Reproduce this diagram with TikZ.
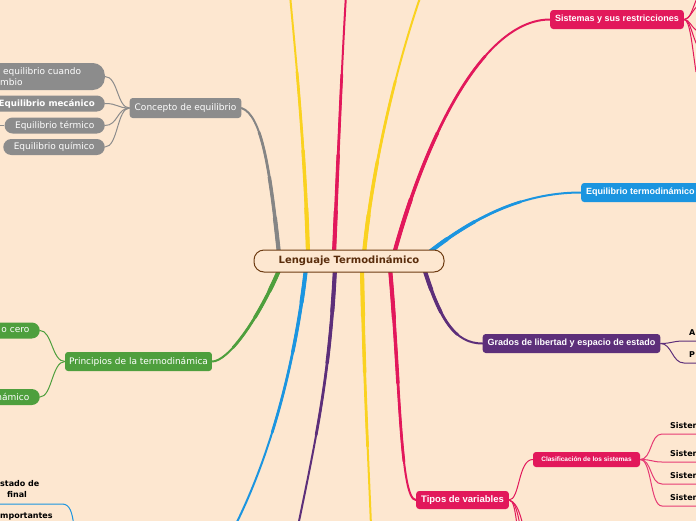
\documentclass[tikz,border=0pt]{standalone}
\usepackage{fontspec}
\setmainfont{DejaVu Sans}
\newfontfamily\lib{Liberation Sans}
\usetikzlibrary{calc,backgrounds}
\definecolor{bg}{HTML}{FDE7D0}
\definecolor{cgray}{HTML}{8C8C8C}
\definecolor{cgreen}{HTML}{4E9F3D}
\definecolor{ccrim}{HTML}{E2185B}
\definecolor{cblue}{HTML}{1B95E0}
\definecolor{cpurp}{HTML}{5D2F7A}
\definecolor{cyel}{HTML}{FAD220}
\definecolor{cbrown}{HTML}{6E3C12}
\definecolor{ctext}{HTML}{5A2D0C}
\tikzset{
 topicbox/.style={rounded corners=3pt, inner xsep=5pt, inner ysep=0pt, minimum height=19pt, text=white, font=\lib\bfseries\fontsize{9}{11}\selectfont},
 pillbox/.style={rounded corners=8pt, inner xsep=10.5pt, inner ysep=0pt, minimum height=16pt, text=white, font=\fontsize{9}{11}\selectfont},
 centrebox/.style={draw=cbrown, line width=1pt, fill=bg, rounded corners=10pt, minimum width=190pt, minimum height=22pt, inner sep=0pt, text=ctext, font=\bfseries\fontsize{10}{12}\selectfont},
 twig/.style={line width=1pt},
 leaf/.style={font=\bfseries\fontsize{8}{10.5}\selectfont, text=black, inner sep=0pt, anchor=west},
}
% sub-curve of a cubic from 0 to t (de Casteljau)
\newcommand\mysubcurve[5]{%
 \coordinate (qab) at ($(#2)!#1!(#3)$);
 \coordinate (qbc) at ($(#3)!#1!(#4)$);
 \coordinate (qcd) at ($(#4)!#1!(#5)$);
 \coordinate (qabc) at ($(qab)!#1!(qbc)$);
 \coordinate (qbcd) at ($(qbc)!#1!(qcd)$);
 \coordinate (qabcd) at ($(qabc)!#1!(qbcd)$);
}
\newcommand\taperbranch[5]{%
 \draw[#1, line width=2pt, line cap=round] (#2) .. controls (#3) and (#4) .. (#5);
 \mysubcurve{0.65}{#2}{#3}{#4}{#5}%
 \draw[#1, line width=2.7pt, line cap=round] (#2) .. controls (qab) and (qabc) .. (qabcd);
 \mysubcurve{0.35}{#2}{#3}{#4}{#5}%
 \draw[#1, line width=3.4pt, line cap=round] (#2) .. controls (qab) and (qabc) .. (qabcd);
 \mysubcurve{0.15}{#2}{#3}{#4}{#5}%
 \draw[#1, line width=4.1pt, line cap=round] (#2) .. controls (qab) and (qabc) .. (qabcd);
}
\begin{document}
\begin{tikzpicture}[x=1pt,y=-1pt]
\useasboundingbox (0,0) rectangle (696,520);
% centre
\node[centrebox] (C) at (349,261) {Lenguaje Termodinámico};
% first level
\node[topicbox, fill=cgray, font=\fontsize{9}{11}\selectfont, minimum height=20pt] (concepto) at (185.5,108) {Concepto de equilibrio};
\node[topicbox, fill=cgreen, font=\fontsize{9}{11}\selectfont, inner xsep=4pt] (principios) at (138.5,361.5) {Principios de la termodinámica};
\node[topicbox, fill=ccrim] (sistemas) at (617,19.5) {Sistemas y sus restricciones};
\node[topicbox, fill=cblue, anchor=west] (eqterm) at (581,192.5) {Equilibrio termodinámico};
\node[topicbox, fill=cpurp] (grados) at (571.5,343.5) {Grados de libertad y espacio de estado};
\node[topicbox, fill=ccrim, font=\lib\bfseries\fontsize{9.5}{11}\selectfont, minimum height=18pt] (tipos) at (462.5,500) {Tipos de variables};
\node[topicbox, fill=ccrim, font=\lib\bfseries\fontsize{6.5}{8}\selectfont, minimum height=15pt, minimum width=107pt] (clasif) at (586.5,459.5) {Clasificación de los sistemas};
% gray children
\node[pillbox, fill=cgray, anchor=east, minimum width=130pt, minimum height=27pt, rounded corners=12pt] (cuando) at (105,76.5) {};
\node[anchor=west, text=white, align=left, inner sep=0pt, font=\fontsize{9}{11}\selectfont] (cuandot) at (0,76.5) {\hspace*{3pt}equilibrio cuando\\mbio};
\node[pillbox, fill=cgray, anchor=east, inner xsep=10pt, font=\bfseries\fontsize{8.7}{11}\selectfont] (mecanico) at (105,103.5) {Equilibrio mecánico};
\node[pillbox, fill=cgray, anchor=east] (termico) at (105,125.5) {Equilibrio térmico};
\node[pillbox, fill=cgray, anchor=east] (quimico) at (105,147) {Equilibrio químico};
% green children
\node[pillbox, fill=cgreen, anchor=east, text width=40pt, align=right] (cero) at (40,330.5) {o cero};
\node[pillbox, fill=cgreen, anchor=east, text width=40pt, align=right] (namico) at (40,397) {námico};
% leaves
\node[leaf] (sa) at (670,426) {Sistem};
\node[leaf] (sb) at (670,453.5) {Sistem};
\node[leaf] (sc) at (670,476) {Sistem};
\node[leaf] (sd) at (670,498) {Sistem};
\node[leaf] (la) at (689,333) {A};
\node[leaf] (lp) at (689,355) {P};
\node[leaf, align=left] (estado) at (0,489) {stado de\\\hspace*{7pt}final};
\node[leaf] (mport) at (0,517) {mportantes};
% free ends
\coordinate (e1) at (290,-5);
\coordinate (e2) at (346,-5);
\coordinate (e3) at (421,-5);
\coordinate (e4) at (371,526);
\coordinate (e5) at (298,526);
\coordinate (e6) at (235,526);
\coordinate (tstub) at (-4,125.5);
\coordinate (bl0) at (-3,504);
\coordinate (bl1) at (74,526);
\coordinate (td1) at (517,526);
\coordinate (td2) at (520,526);
\coordinate (td3) at (523,526);
\coordinate (f1) at (697,-2);
\coordinate (f2) at (700,4);
\coordinate (f3) at (699,32);
\coordinate (f4) at (697,45);
\coordinate (f5) at (696,72);
\begin{scope}[on background layer]
\fill[bg] (-10,-10) rectangle (706,530);
% starts inside centre
\coordinate (s1) at ($(C.center)+(-70,-7)$);
\coordinate (s2) at ($(C.center)+(-41,-7)$);
\coordinate (s3) at ($(C.center)+(-15,-7)$);
\coordinate (s4) at ($(C.center)+(15,-7)$);
\coordinate (s5) at ($(C.center)+(45,-7)$);
\coordinate (s6) at ($(C.center)+(78,-7)$);
\coordinate (b1) at ($(C.center)+(75,7)$);
\coordinate (b2) at ($(C.center)+(41,7)$);
\coordinate (b3) at ($(C.center)+(13,7)$);
\coordinate (b4) at ($(C.center)+(-14,7)$);
\coordinate (b5) at ($(C.center)+(-43,7)$);
\coordinate (b6) at ($(C.center)+(-69,7)$);
\taperbranch{cgray!95!black}{s1}{270,170}{262,115}{concepto.east}
\taperbranch{cyel}{s2}{305,150}{296,60}{e1}
\taperbranch{ccrim}{s3}{338,160}{342,60}{e2}
\taperbranch{cyel}{s4}{372,170}{395,70}{e3}
\taperbranch{ccrim}{s5}{428,130}{485,19.5}{sistemas.west}
\taperbranch{cblue}{s6}{470,220}{520,192.5}{eqterm.west}
\taperbranch{cpurp}{b1}{440,320}{455,343.5}{grados.west}
\taperbranch{ccrim}{b2}{400,380}{400,500}{tipos.west}
\taperbranch{cyel}{b3}{364,380}{368,450}{e4}
\taperbranch{cpurp}{b4}{330,370}{318,430}{e5}
\taperbranch{cblue}{b5}{298,340}{278,440}{e6}
\taperbranch{cgreen}{b6}{258,320}{228,361.5}{principios.east}
% gray twigs
\draw[twig, cgray] (concepto.west) .. controls (117,108) and (118,76.5) .. (cuando.east);
\draw[twig, cgray] (concepto.west) .. controls (117,108) and (118,103.5) .. (mecanico.east);
\draw[twig, cgray] (concepto.west) .. controls (117,108) and (118,125.5) .. (termico.east);
\draw[twig, cgray] (concepto.west) .. controls (117,108) and (118,147) .. (quimico.east);
\draw[twig, cgray] (termico.west) -- (tstub);
% green twigs
\draw[twig, cgreen] (principios.west) .. controls (52,361.5) and (52,330.5) .. (cero.east);
\draw[twig, cgreen] (principios.west) .. controls (52,361.5) and (52,397) .. (namico.east);
% sistemas fan
\draw[twig, ccrim] (sistemas.east) .. controls (690,19.5) and (692,10) .. (f1);
\draw[twig, ccrim] (sistemas.east) .. controls (690,19.5) and (693,8) .. (f2);
\draw[twig, ccrim] (sistemas.east) .. controls (690,19.5) and (691,28) .. (f3);
\draw[twig, ccrim] (sistemas.east) .. controls (690,19.5) and (692,35) .. (f4);
\draw[twig, ccrim] (sistemas.east) .. controls (690,19.5) and (692,45) .. (f5);
% grados leaves
\draw[twig, cpurp] (grados.east) .. controls (672,343.5) and (672,341) .. (684,341) -- (700,341);
\draw[twig, cpurp] (grados.east) .. controls (672,343.5) and (672,363) .. (684,363) -- (700,363);
% tipos
\draw[twig, ccrim] (tipos.east) .. controls (520,500) and (518,459.5) .. (clasif.west);
\draw[twig, ccrim] (tipos.east) .. controls (513,500) and (515,508) .. (td1);
\draw[twig, ccrim] (tipos.east) .. controls (514,501) and (517,508) .. (td2);
\draw[twig, ccrim] (tipos.east) .. controls (515,502) and (519,508) .. (td3);
% clasif leaves
\draw[twig, ccrim!85] (clasif.east) .. controls (652,459.5) and (650,434) .. (662,434) -- (700,434);
\draw[twig, ccrim!85] (clasif.east) .. controls (652,459.5) and (652,462) .. (662,462) -- (700,462);
\draw[twig, ccrim!85] (clasif.east) .. controls (652,459.5) and (650,484) .. (662,484) -- (700,484);
\draw[twig, ccrim!85] (clasif.east) .. controls (652,459.5) and (650,506) .. (662,506) -- (700,506);
% bottom-left blue leaf
\draw[twig, cblue] (bl0) -- (62,504) .. controls (70,504) and (72,512) .. (bl1);
\end{scope}
\end{tikzpicture}
\end{document}
